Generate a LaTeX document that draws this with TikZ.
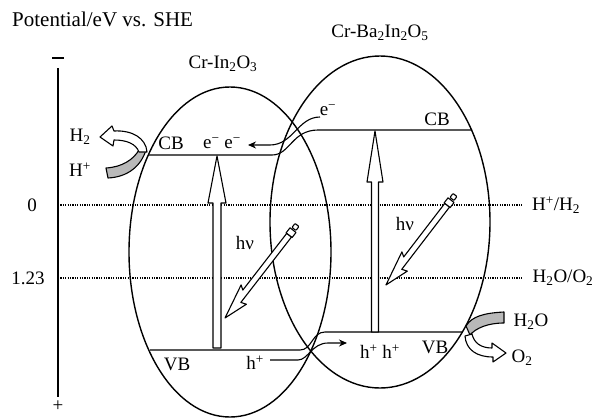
\documentclass[tikz,border=0pt]{standalone}
\usepackage{fontspec}
\setmainfont{Liberation Serif}
\usetikzlibrary{arrows.meta}
\newcommand{\hvarrow}[3]{%
 \begin{scope}[shift={#1}, rotate=#2]
  \draw[thinline, rounded corners=0.8pt] (0,-2.5) rectangle (5,2.5);
  \draw[thinline, fill=white] (6.5,-3.8) rectangle (13,3.8);
  \draw[thinline, fill=white] (13,3) -- ({#3-33},3) -- ({#3-36},7.5) -- (#3,0) -- ({#3-24},-8.5) -- ({#3-22},-3) -- (13,-3) -- cycle;
 \end{scope}}
\begin{document}
\begin{tikzpicture}[x=1pt,y=-1pt, line join=round,
  lbl/.style={font=\fontsize{19}{22}\selectfont, inner sep=0pt, anchor=center},
  thinline/.style={line width=1.1pt},
  ell/.style={line width=1.4pt},
  dot/.style={line width=1.1pt, dash pattern=on 1.2pt off 1.2pt},
  hollow/.style={draw, line width=1.1pt, fill=white},
  band/.style={draw, line width=1.1pt, fill=gray!55},
  tip/.style={-{Stealth[length=8pt,width=7pt]}}
]
\useasboundingbox (0,0) rectangle (598,418);

% title
\node[lbl, anchor=west, font=\fontsize{21}{24}\selectfont] (title) at (12,19) {Potential/eV vs. SHE};

% axis
\coordinate (axtop) at (58,68);
\coordinate (axbot) at (58,397);
\draw[thinline] (axtop) -- (axbot);
\coordinate (mA) at (52,58); \coordinate (mB) at (64,58);
\draw[line width=1.6pt] (mA) -- (mB);
\node[lbl] (plus) at (58,406) {+};

% potential levels
\coordinate (l0a) at (58,205); \coordinate (l0b) at (522,205);
\coordinate (l1a) at (58,278); \coordinate (l1b) at (522,278);
\draw[dot] (l0a) -- (l0b);
\draw[dot] (l1a) -- (l1b);
\node[lbl] (zero) at (32,205) {0};
\node[lbl] (onetwo) at (28,278) {1.23};
\node[lbl] (hh) at (556,205) {H\textsuperscript{+}/H\textsubscript{2}};
\node[lbl] (ho) at (563,278) {H\textsubscript{2}O/O\textsubscript{2}};

% ellipses
\draw[ell] (230,252) ellipse [x radius=101pt, y radius=165pt];
\draw[ell] (380,222) ellipse [x radius=110pt, y radius=166pt];
\node[lbl] (inlab) at (223,64) {Cr-In\textsubscript{2}O\textsubscript{3}};
\node[lbl] (balab) at (380,33) {Cr-Ba\textsubscript{2}In\textsubscript{2}O\textsubscript{5}};

% bands
\draw[thinline] (148,155) -- (272,155) .. controls (290,155) and (292,130) .. (318,130) -- (472,130);
\draw[thinline] (150,350) -- (300,350) .. controls (312,350) and (312,332) .. (325,332) -- (462,332);

\node[lbl] (cbl) at (171,143) {CB};
\node[lbl] (eel) at (222,143) {e\textsuperscript{−} e\textsuperscript{−}};
\node[lbl] (cbr) at (437,119) {CB};
\node[lbl] (etop) at (328,110) {e\textsuperscript{−}};
\node[lbl] (vbl) at (177,364) {VB};
\node[lbl] (hpl) at (255,363) {h\textsuperscript{+}};
\node[lbl] (hpr) at (380,352) {h\textsuperscript{+} h\textsuperscript{+}};
\node[lbl] (vbr) at (435,347) {VB};

% excitation arrows
\draw[hollow] (213,348) -- (213,203) -- (208,203) -- (217,156) -- (226,203) -- (221,203) -- (221,348) -- cycle;
\draw[hollow] (371.5,332) -- (371.5,182) -- (367,182) -- (375,131) -- (383,182) -- (378.5,182) -- (378.5,332) -- cycle;

% light arrows
\hvarrow{(297,225)}{232.25}{117.6}
\hvarrow{(455,195)}{232.5}{113.4}
\node[lbl] (hvl) at (245,243) {hν};
\node[lbl] (hvr) at (405,224) {hν};

% charge transfer arrows
\draw[thinline, tip] (320,117) .. controls (298,117) and (293,145) .. (270,145) -- (248,145);
\draw[thinline, tip] (270,360) -- (298,360) .. controls (308,360) and (312,343) .. (328,343) -- (347,343);

% H+ -> H2
\draw[band] (106,168) .. controls (122,167) and (133,160) .. (139,150) -- (146,150) .. controls (141,166) and (128,177) .. (108,178) -- cycle;
\draw[hollow] (147,152) .. controls (146,138) and (132,130) .. (114,131) -- (112,126) -- (100,137) -- (113,146) -- (114,140) .. controls (127,140) and (136,144) .. (139,152) -- cycle;
\node[lbl] (h2) at (80,137) {H\textsubscript{2}};
\node[lbl] (hplus) at (80,170) {H\textsuperscript{+}};

% H2O -> O2
\draw[band] (466,326) .. controls (472,316) and (485,313) .. (504,312) -- (504,323) .. controls (488,323) and (476,328) .. (470,335) -- cycle;
\draw[hollow] (465,336) .. controls (466,350) and (477,357) .. (493,357) -- (493,362) -- (506,353) -- (492,343) -- (492,348) .. controls (481,348) and (474,343) .. (472,334) -- cycle;
\node[lbl] (h2o) at (531,322) {H\textsubscript{2}O};
\node[lbl] (o2) at (522,358) {O\textsubscript{2}};
\end{tikzpicture}
\end{document}
